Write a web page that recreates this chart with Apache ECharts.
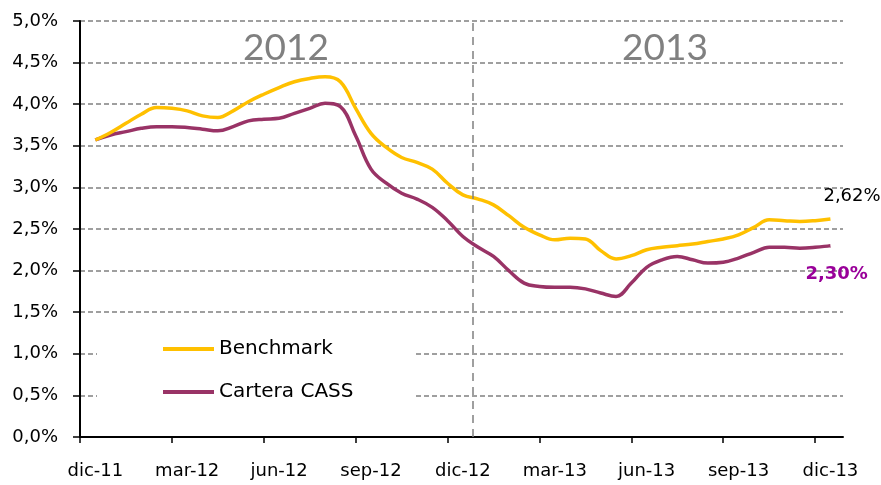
<!DOCTYPE html>
<html>
<head>
<meta charset="utf-8">
<script src="https://cdn.jsdelivr.net/npm/echarts@6/dist/echarts.min.js"></script>
<style>
  html, body { margin: 0; padding: 0; background: #fff; }
  #chart { width: 881px; height: 485px; }
</style>
</head>
<body>
<div id="chart"></div>
<script>
// months counted from dic-11
const months = [
  0.5, 1, 1.5, 2, 2.5, 3, 3.5, 4, 4.5, 5, 5.5, 6, 6.5, 7, 7.5, 8, 8.5, 9, 9.5, 10,
  10.5, 11, 11.5, 12, 12.5, 13, 13.5, 14, 14.5, 15, 15.5, 16, 16.5, 17, 17.5, 18,
  18.5, 19, 19.5, 20, 20.5, 21, 21.5, 22, 22.5, 23, 23.5, 24, 24.5
];
const benchmark = [
  3.57, 3.66, 3.77, 3.88, 3.96, 3.95, 3.92, 3.86, 3.84, 3.92, 4.03, 4.12, 4.20, 4.27, 4.31, 4.33, 4.27, 3.95, 3.65, 3.48,
  3.36, 3.30, 3.22, 3.05, 2.91, 2.86, 2.79, 2.66, 2.52, 2.43, 2.37, 2.39, 2.38, 2.24, 2.14, 2.18,
  2.25, 2.28, 2.30, 2.32, 2.35, 2.38, 2.43, 2.52, 2.61, 2.60, 2.59, 2.60, 2.62
];
const carteraCass = [
  3.57, 3.63, 3.67, 3.71, 3.73, 3.73, 3.72, 3.70, 3.68, 3.73, 3.80, 3.82, 3.83, 3.89, 3.95, 4.01, 3.97, 3.62, 3.22, 3.05,
  2.93, 2.86, 2.76, 2.60, 2.41, 2.28, 2.17, 2.00, 1.85, 1.81, 1.80, 1.80, 1.78, 1.73, 1.69, 1.85,
  2.04, 2.13, 2.17, 2.13, 2.09, 2.10, 2.15, 2.22, 2.28, 2.28, 2.27, 2.28, 2.30
];
// ticks sit between months, labels sit on the month itself
const tickMonths = [0, 3, 6, 9, 12, 15, 18, 21, 24];
const labelMonths = [0.5, 3.5, 6.5, 9.5, 12.5, 15.5, 18.5, 21.5, 24.5];
const tickLabels = ['dic-11', 'mar-12', 'jun-12', 'sep-12', 'dic-12', 'mar-13', 'jun-13', 'sep-13', 'dic-13'];
const yearSplit = 12.83;

const FONT = '"DejaVu Sans", sans-serif';
const YEAR_FONT = 'Lato, sans-serif';
const fmtPct = (v, d) => v.toFixed(d).replace('.', ',') + '%';
const pairs = (ys) => months.map((m, i) => [m, ys[i]]);

const chart = echarts.init(document.getElementById('chart'));
chart.setOption({
  animation: false,
  grid: { left: 80, right: 38, top: 21, bottom: 48 },
  textStyle: { fontFamily: FONT },
  legend: {
    orient: 'vertical',
    left: 97,
    top: 324,
    padding: [15, 60, 15, 66],
    backgroundColor: '#fff',
    icon: 'rect',
    itemWidth: 51,
    itemHeight: 4,
    itemGap: 23,
    textStyle: { fontFamily: FONT, fontSize: 20, color: '#000' },
    data: ['Benchmark', 'Cartera CASS'],
  },
  xAxis: {
    type: 'value',
    min: 0,
    max: 24.91,
    interval: 3,
    axisLine: { lineStyle: { color: '#000', width: 2 } },
    axisTick: { show: true, length: 6, lineStyle: { color: '#000', width: 1.5 }, customValues: tickMonths },
    axisLabel: {
      customValues: labelMonths,
      margin: 25,
      fontSize: 18,
      color: '#000',
      fontFamily: FONT,
      formatter: (v) => tickLabels[labelMonths.indexOf(v)] || '',
    },
    splitLine: { show: false },
  },
  yAxis: {
    type: 'value',
    min: 0,
    max: 5,
    interval: 0.5,
    axisLine: { show: true, lineStyle: { color: '#000', width: 2 } },
    axisTick: { show: true, length: 7, lineStyle: { color: '#000', width: 1.5 } },
    axisLabel: {
      margin: 22,
      fontSize: 18,
      color: '#000',
      fontFamily: FONT,
      formatter: (v) => fmtPct(v, 1),
    },
    splitLine: { lineStyle: { color: '#808080', width: 1.5, type: [5, 3] } },
  },
  series: [
    {
      name: 'Benchmark',
      type: 'line',
      data: pairs(benchmark),
      smooth: 0.4,
      symbol: 'none',
      lineStyle: { color: '#FFC000', width: 3.5 },
      itemStyle: { color: '#FFC000' },
      z: 3,
      endLabel: {
        show: true,
        align: 'left',
        offset: [-15, -23],
        fontSize: 18,
        color: '#000',
        fontFamily: FONT,
        formatter: (p) => fmtPct(p.value[1], 2),
      },
      markLine: {
        silent: true,
        symbol: 'none',
        label: { show: false },
        lineStyle: { color: '#808080', width: 1.5, type: [8, 6] },
        data: [{ xAxis: yearSplit }],
      },
    },
    {
      name: 'Cartera CASS',
      type: 'line',
      data: pairs(carteraCass),
      smooth: 0.4,
      symbol: 'none',
      lineStyle: { color: '#993366', width: 3.5 },
      itemStyle: { color: '#993366' },
      z: 2,
      endLabel: {
        show: true,
        align: 'left',
        offset: [-33, 29],
        fontSize: 18,
        fontWeight: 'bold',
        color: '#990099',
        fontFamily: FONT,
        formatter: (p) => fmtPct(p.value[1], 2),
      },
    },
  ],
  graphic: [
    {
      type: 'text',
      left: 243, top: 30,
      style: { text: '2012', fill: '#808080', font: '37px ' + YEAR_FONT },
    },
    {
      type: 'text',
      left: 622, top: 30,
      style: { text: '2013', fill: '#808080', font: '37px ' + YEAR_FONT },
    },
  ],
});
</script>
</body>
</html>
